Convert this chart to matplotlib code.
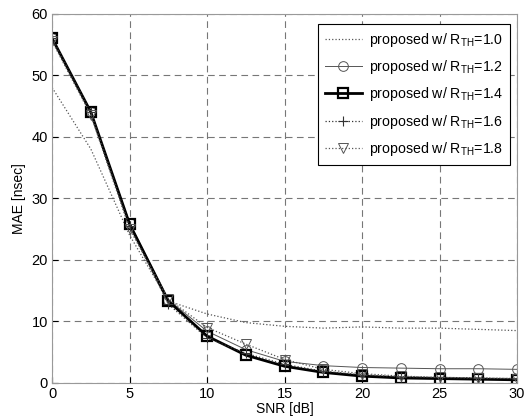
import numpy as np
import matplotlib.pyplot as plt

plt.rcParams['font.family'] = ['Liberation Sans', 'DejaVu Sans']

snr = [0, 2.5, 5, 7.5, 10, 12.5, 15, 17.5, 20, 22.5, 25, 27.5, 30]

mae_10 = [48.0, 38.0, 24.0, 13.3, 11.2, 9.8, 9.2, 8.9, 9.1, 8.9, 8.9, 8.7, 8.5]
mae_12 = [56.0, 44.0, 26.0, 13.5, 8.4, 5.4, 3.5, 2.8, 2.5, 2.4, 2.3, 2.3, 2.2]
mae_14 = [56.0, 44.0, 25.8, 13.3, 7.6, 4.5, 2.7, 1.7, 1.1, 0.8, 0.7, 0.6, 0.5]
mae_16 = [56.0, 44.0, 25.5, 12.8, 7.3, 4.8, 3.0, 1.9, 1.3, 1.0, 0.9, 0.8, 0.7]
mae_18 = [55.5, 43.5, 25.0, 13.6, 9.0, 6.3, 3.8, 2.2, 1.5, 1.1, 0.9, 0.8, 0.7]

labels = ["proposed w/ R$_{\\mathregular{TH}}$=1.0",
          "proposed w/ R$_{\\mathregular{TH}}$=1.2",
          "proposed w/ R$_{\\mathregular{TH}}$=1.4",
          "proposed w/ R$_{\\mathregular{TH}}$=1.6",
          "proposed w/ R$_{\\mathregular{TH}}$=1.8"]

fig = plt.figure(figsize=(5.32, 4.18), dpi=100)
ax = fig.add_axes([0.098, 0.084, 0.874, 0.883])

ax.plot(snr, mae_10, ls=':', lw=0.9, color='#555555', label=labels[0])
ax.plot(snr, mae_12, ls='-', lw=0.7, color='#555555', marker='o', ms=7,
        mfc='none', mec='#555555', mew=0.7, label=labels[1])
ax.plot(snr, mae_14, ls='-', lw=2.0, color='black', marker='s', ms=7.5,
        mfc='none', mec='black', mew=1.6, label=labels[2])
ax.plot(snr, mae_16, ls=':', lw=0.9, color='#333333', marker='+', ms=7,
        mew=0.8, label=labels[3])
ax.plot(snr, mae_18, ls=':', lw=0.9, color='#555555', marker='v', ms=7,
        mfc='none', mec='#555555', mew=0.7, label=labels[4])

ax.set_xlim(0, 30)
ax.set_ylim(0, 60)
ax.set_xticks([0, 5, 10, 15, 20, 25, 30])
ax.set_yticks([0, 10, 20, 30, 40, 50, 60])
ax.grid(True, ls=(0, (6, 4)), color='#777777', lw=0.8)
ax.tick_params(direction='in', labelsize=10.5, length=4, pad=3)
for s in ax.spines.values():
    s.set_color('#999999')
    s.set_linewidth(0.8)

ax.set_xlabel("SNR [dB]", fontsize=10, labelpad=1)
ax.set_ylabel("MAE [nsec]", fontsize=10, labelpad=4)

leg = ax.legend(loc='upper right', fontsize=10.2, fancybox=False,
                framealpha=1, edgecolor='black', handlelength=2.6,
                handletextpad=0.5, borderpad=0.5, labelspacing=0.65,
                bbox_to_anchor=(1.0, 0.992))
leg.get_frame().set_linewidth(0.8)

fig.savefig("out.png", dpi=100)
